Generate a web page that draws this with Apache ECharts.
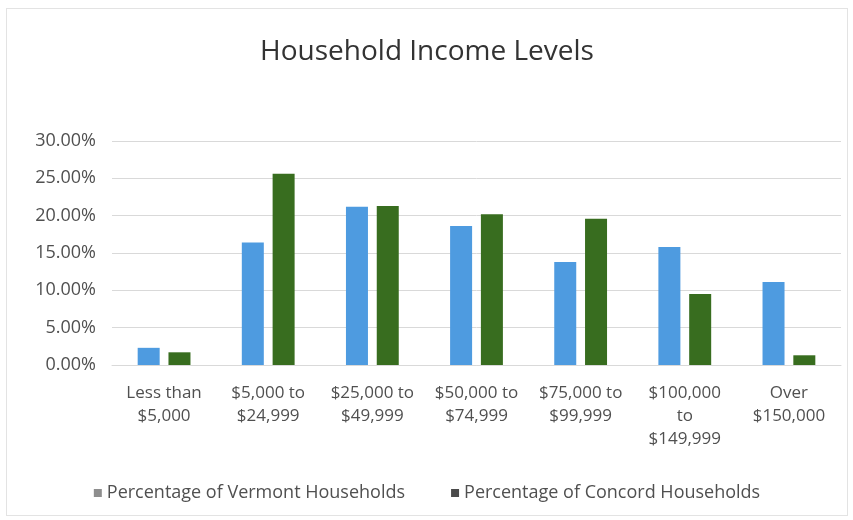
<!DOCTYPE html>
<html><head><meta charset="utf-8">
<script src="https://cdn.jsdelivr.net/npm/echarts@6/dist/echarts.min.js"></script>
<style>html,body{margin:0;padding:0;background:#fff}#c{position:absolute;left:6px;top:8px;width:840px;height:506px;border:1px solid #e3e3e3}</style>
</head><body><div id="c"></div>
<script>
const categories = ['Less than\n$5,000','$5,000 to\n$24,999','$25,000 to\n$49,999','$50,000 to\n$74,999','$75,000 to\n$99,999','$100,000\nto\n$149,999','Over\n$150,000'];
const vermont = [2.3, 16.4, 21.2, 18.6, 13.8, 15.8, 11.1];
const concord = [1.7, 25.6, 21.3, 20.2, 19.6, 9.5, 1.3];
const seriesNames = ['Percentage of Vermont Households','Percentage of Concord Households'];
const chart = echarts.init(document.getElementById('c'));
const font = '"Open Sans", sans-serif';
chart.setOption({
  animation:false,
  title:{text:'Household Income Levels',left:'center',top:24,textStyle:{fontFamily:font,fontSize:28,fontWeight:'normal',color:'#333'}},
  legend:{bottom:8,left:'center',itemWidth:8,itemHeight:8,itemGap:46,icon:'rect',
    textStyle:{fontFamily:font,fontSize:18,color:'#505050'},
    data:[{name:seriesNames[0],itemStyle:{color:'#8e8e8e'}},{name:seriesNames[1],itemStyle:{color:'#4a4a4a'}}]},
  grid:{left:105,right:6,top:132,bottom:150},
  xAxis:{type:'category',data:categories,axisTick:{show:false},
    axisLine:{lineStyle:{color:'#d9d9d9'}},
    axisLabel:{fontFamily:font,fontSize:17,color:'#505050',lineHeight:23,margin:17,interval:0}},
  yAxis:{type:'value',min:0,max:30,interval:5,
    axisLabel:{fontFamily:font,fontSize:18,color:'#505050',formatter:v=>v.toFixed(2)+'%',margin:16},
    splitLine:{lineStyle:{color:'#d9d9d9'}}},
  series:[
    {name:seriesNames[0],type:'bar',data:vermont,barWidth:22,barGap:'40%',itemStyle:{color:'#4e9be0'}},
    {name:seriesNames[1],type:'bar',data:concord,barWidth:22,itemStyle:{color:'#386d1f'}}
  ]
});
</script></body></html>
